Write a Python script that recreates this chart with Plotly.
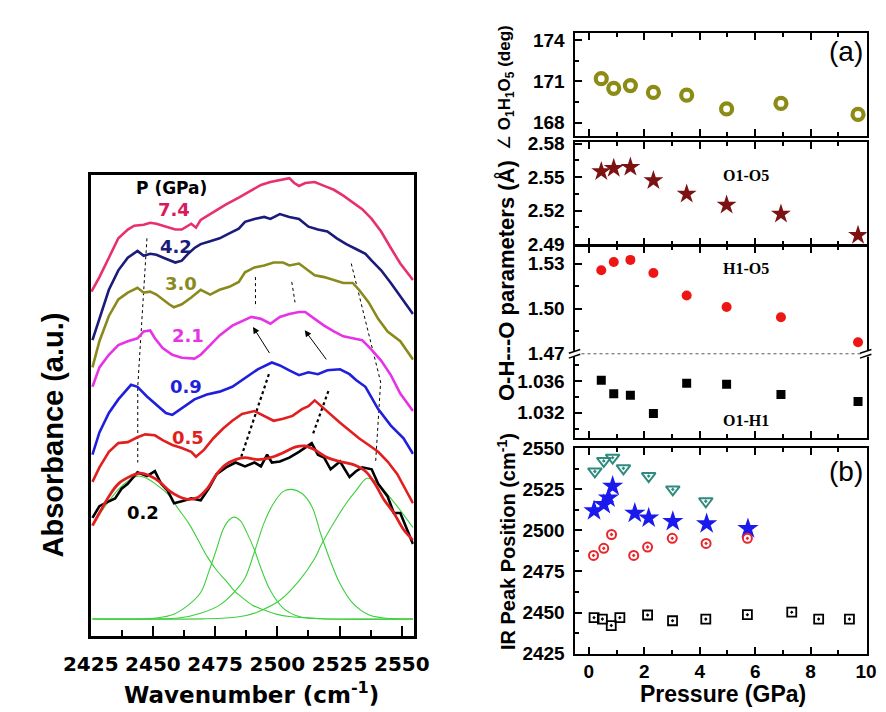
import plotly.graph_objects as go

# ---------------- Left panel: IR spectra (wavenumber, absorbance a.u.) ----------------
wn_74 = [2425.3, 2428.5, 2432.3, 2436.1, 2439.9, 2442.5, 2446.3, 2448.9, 2451.4, 2455.2, 2459.0, 2461.6, 2463.5,
         2465.4, 2467.3, 2469.2, 2474.3, 2479.4, 2484.5, 2489.6, 2493.4, 2497.2, 2501.0, 2504.8, 2506.8, 2508.7,
         2511.2, 2515.0, 2518.8, 2522.7, 2526.5, 2530.3, 2534.1, 2537.9, 2541.7, 2545.6, 2549.4, 2554.5]
ab_74 = [355, 370, 390, 410, 419, 423, 424, 426, 425, 422, 419, 419, 422, 425, 421, 429, 437, 445, 452, 459, 465,
         468, 470, 472, 467, 464, 467, 468, 464, 460, 454, 447, 440, 430, 417, 400, 384, 367]

wn_42 = [2425.7, 2428.5, 2432.3, 2436.1, 2439.9, 2443.8, 2446.3, 2448.9, 2451.4, 2455.2, 2459.0, 2461.6, 2464.1,
         2466.7, 2469.2, 2473.0, 2476.8, 2480.7, 2484.5, 2487.0, 2490.8, 2494.7, 2497.2, 2501.0, 2504.8, 2508.7,
         2512.5, 2516.3, 2520.1, 2523.9, 2527.7, 2531.6, 2535.4, 2537.9, 2541.7, 2545.6, 2549.4, 2554.5]
ab_42 = [305, 327, 357, 377, 390, 397, 392, 394, 393, 389, 385, 387, 394, 400, 404, 407, 410, 415, 420, 427, 430,
         432, 430, 435, 432, 430, 422, 419, 417, 410, 404, 399, 394, 387, 377, 364, 350, 332]

wn_30 = [2425.7, 2428.5, 2432.3, 2436.1, 2439.9, 2443.8, 2446.3, 2448.9, 2451.4, 2453.9, 2456.5, 2458.4, 2461.6,
         2465.4, 2469.2, 2473.0, 2476.8, 2480.7, 2484.5, 2487.0, 2490.8, 2494.7, 2498.5, 2502.3, 2504.8, 2508.7,
         2511.2, 2515.0, 2518.8, 2522.7, 2526.5, 2530.3, 2532.8, 2536.7, 2540.5, 2544.3, 2549.4, 2554.5]
ab_30 = [277, 304, 330, 347, 354, 359, 354, 355, 352, 347, 342, 339, 342, 349, 357, 352, 357, 360, 365, 375, 380,
         382, 385, 385, 382, 384, 379, 372, 370, 367, 364, 364, 357, 344, 327, 314, 304, 285]

wn_21 = [2425.7, 2428.5, 2432.3, 2436.1, 2439.9, 2443.8, 2446.3, 2448.9, 2450.8, 2453.9, 2457.8, 2461.6, 2466.7,
         2469.2, 2473.0, 2476.8, 2481.9, 2485.8, 2489.6, 2493.4, 2497.2, 2501.0, 2504.8, 2508.7, 2511.2, 2515.0,
         2518.8, 2522.7, 2526.5, 2530.3, 2534.1, 2537.9, 2541.7, 2545.6, 2549.4, 2554.5]
ab_21 = [257, 277, 290, 300, 304, 307, 314, 315, 307, 297, 290, 287, 286, 290, 300, 310, 320, 325, 329, 327, 322,
         329, 332, 334, 334, 327, 320, 314, 309, 307, 305, 295, 284, 269, 250, 232]

wn_09 = [2425.7, 2428.5, 2432.3, 2436.1, 2441.2, 2443.8, 2447.6, 2451.4, 2455.2, 2457.8, 2461.6, 2466.7, 2471.7,
         2476.8, 2481.9, 2485.8, 2492.1, 2497.8, 2501.0, 2504.8, 2508.7, 2512.5, 2516.3, 2520.1, 2525.2, 2529.0,
         2531.6, 2535.4, 2540.5, 2545.6, 2550.7, 2554.5]
ab_09 = [187, 210, 230, 244, 259, 257, 247, 239, 230, 228, 235, 244, 249, 252, 257, 264, 275, 282, 279, 274, 269,
         272, 270, 274, 275, 270, 264, 257, 234, 217, 204, 188]

wn_05 = [2425.7, 2428.5, 2432.3, 2436.1, 2439.9, 2443.8, 2446.9, 2450.8, 2453.9, 2457.8, 2461.6, 2465.4, 2467.3,
         2470.5, 2474.3, 2478.2, 2481.9, 2485.8, 2490.8, 2494.7, 2498.5, 2502.3, 2506.1, 2509.9, 2512.5, 2515.0,
         2517.6, 2521.4, 2525.2, 2529.0, 2532.8, 2536.7, 2540.5, 2544.3, 2548.2, 2554.5]
ab_05 = [159, 174, 190, 199, 200, 205, 208, 207, 202, 197, 194, 190, 185, 192, 204, 214, 222, 229, 232, 227, 222,
         224, 227, 234, 237, 243, 237, 229, 220, 212, 204, 197, 190, 180, 167, 137]

wn_02 = [2425.7, 2428.5, 2432.3, 2434.8, 2437.4, 2439.9, 2443.8, 2447.6, 2450.8, 2453.3, 2455.9, 2458.5, 2461.6,
         2465.4, 2469.2, 2472.4, 2475.6, 2479.4, 2483.2, 2487.0, 2490.8, 2493.4, 2495.9, 2497.8, 2501.0, 2504.8,
         2508.7, 2512.5, 2513.8, 2516.3, 2518.8, 2521.4, 2525.2, 2529.0, 2531.6, 2534.1, 2537.9, 2540.5, 2544.3,
         2546.8, 2549.4, 2554.5]
ab_02 = [122, 134, 139, 142, 152, 157, 169, 165, 170, 157, 150, 137, 139, 142, 140, 152, 167, 174, 179, 175, 179,
         175, 187, 179, 180, 184, 190, 197, 199, 187, 184, 172, 180, 164, 170, 174, 172, 157, 144, 127, 127, 95]

# fitted envelope of the 0.2 GPa spectrum
wn_fit = [2425.7, 2428.5, 2432.3, 2436.1, 2441.2, 2445.0, 2448.9, 2452.7, 2456.5, 2460.4, 2464.2, 2468.0, 2471.8,
          2475.6, 2479.4, 2483.2, 2487.0, 2492.1, 2497.2, 2502.3, 2507.4, 2511.2, 2515.0, 2520.1, 2525.2, 2530.3,
          2535.4, 2539.2, 2543.0, 2546.8, 2550.7, 2554.5]
ab_fit = [114, 127, 144, 157, 165, 168, 165, 159, 150, 144, 141, 143, 152, 167, 177, 182, 184, 182, 184, 189, 195,
          196, 192, 184, 180, 177, 170, 157, 140, 127, 110, 99]

# fitted components
wn_g1 = [2425.7, 2430.0, 2436.0, 2440.0, 2444.0, 2448.0, 2452.0, 2456.5, 2460.0, 2464.2, 2468.0, 2471.8, 2475.6,
         2479.4, 2483.0, 2485.8, 2490.0, 2494.7, 2500.0, 2504.8, 2511.0, 2517.6, 2530.0, 2554.5]
ab_g1 = [115, 131, 151, 160, 165, 162, 155, 145, 132, 117, 100, 82, 68, 57, 46, 40, 32, 27, 22.5, 20.3, 19, 18,
         17.7, 17.7]
wn_g2 = [2425.7, 2445.0, 2451.4, 2457.8, 2464.2, 2469.2, 2472.4, 2475.6, 2478.2, 2480.7, 2482.6, 2485.1, 2487.7,
         2490.8, 2493.4, 2497.2, 2502.3, 2508.7, 2517.6, 2554.5]
ab_g2 = [17.7, 17.7, 18.7, 22, 32, 45, 66, 90, 110, 120, 122.7, 119, 107, 89, 70, 47, 29, 20.3, 18, 17.7]
wn_g3 = [2425.7, 2450.0, 2460.3, 2469.2, 2476.8, 2483.2, 2487.0, 2490.8, 2494.7, 2498.5, 2502.3, 2505.9, 2509.9,
         2513.8, 2517.6, 2521.4, 2525.2, 2530.3, 2536.7, 2543.0, 2554.5]
ab_g3 = [17.7, 17.8, 18.7, 23.7, 32, 47, 60, 87, 117, 137, 149, 151.3, 147, 134, 104, 77, 54, 34, 22, 18.7, 17.7]
wn_g4 = [2425.7, 2470.0, 2479.4, 2487.0, 2492.1, 2501.0, 2508.7, 2515.0, 2517.6, 2522.7, 2527.7, 2531.6, 2536.0,
         2539.2, 2543.0, 2548.1, 2554.5]
ab_g4 = [17.7, 17.9, 18.7, 21, 25, 37, 57, 80, 94, 117, 137, 150, 162.7, 160, 150, 134, 112]

# guide lines (dotted) and arrows
guide1_wn = [2447.6, 2443.9, 2443.9]
guide1_ab = [410, 257, 179]
guide2_wn = [2485.5, 2496.6]
guide2_ab = [185, 270]
guide3_wn = [2514.4, 2520.7]
guide3_ab = [209, 254]
guide4_wn = [2491.2, 2491.2]
guide4_ab = [370, 339]
guide5_wn = [2505.8, 2507.1]
guide5_ab = [365, 344]
guide6_wn = [2529.7, 2541.5, 2539.5]
guide6_ab = [384, 262, 180]

pressure_labels = ["7.4", "4.2", "3.0", "2.1", "0.9", "0.5", "0.2"]
label_wn = [2458.4, 2459.2, 2461.1, 2464.1, 2463.4, 2464.1, 2446.2]
label_ab = [440, 402, 363, 310, 257, 205, 127]

# ---------------- Right panel (a) ----------------
P_a = [0.45, 0.9, 1.5, 2.33, 3.53, 4.97, 6.93, 9.71]
angle_O1H1O5 = [171.2, 170.5, 170.7, 170.2, 170.0, 169.0, 169.4, 168.6]
d_O1O5 = [2.555, 2.558, 2.559, 2.547, 2.535, 2.525, 2.517, 2.498]
d_H1O5 = [1.5255, 1.531, 1.5324, 1.5237, 1.5087, 1.5011, 1.4943, 1.4777]
d_O1H1 = [1.0361, 1.0344, 1.0342, 1.0319, 1.0357, 1.0356, 1.0343, 1.0334]

# ---------------- Right panel (b) ----------------
P_tri = [0.22, 0.54, 0.86, 1.25, 2.16, 3.03, 4.22]
nu_tri = [2535.7, 2542.1, 2544.1, 2537.6, 2532.9, 2524.8, 2517.6]
P_star = [0.19, 0.54, 0.71, 0.86, 1.66, 2.16, 3.03, 4.25, 5.74]
nu_star = [2511.8, 2515.7, 2519.6, 2526.8, 2510.4, 2507.4, 2505.3, 2503.9, 2501.0]
P_circ = [0.17, 0.54, 0.82, 1.62, 2.12, 3.01, 4.23, 5.72]
nu_circ = [2484.7, 2489.0, 2497.4, 2484.7, 2489.8, 2495.1, 2492.0, 2495.1]
P_sq = [0.19, 0.49, 0.81, 1.12, 2.12, 3.02, 4.22, 5.72, 7.32, 8.29, 9.40]
nu_sq = [2446.9, 2446.0, 2442.1, 2446.9, 2448.5, 2445.0, 2446.0, 2448.7, 2450.2, 2446.0, 2446.0]

# ======================================================================
W, H = 886, 712
def px(x):
    return x / W
def py(y):
    return 1 - y / H

LEFT_FONT = "DejaVu Sans"
RIGHT_FONT = "Liberation Sans, Arial, sans-serif"

fig = go.Figure()

def add_line(xs, ys, color, width, dash=None, shape="linear", axis=("x", "y")):
    fig.add_trace(go.Scatter(x=xs, y=ys, mode="lines", xaxis=axis[0], yaxis=axis[1],
                             line=dict(color=color, width=width, dash=dash, shape=shape),
                             showlegend=False, hoverinfo="skip"))

# guides behind
for gx, gy, w in [(guide1_wn, guide1_ab, 1), (guide2_wn, guide2_ab, 2.2), (guide3_wn, guide3_ab, 2.2),
                  (guide4_wn, guide4_ab, 1), (guide5_wn, guide5_ab, 1), (guide6_wn, guide6_ab, 1)]:
    add_line(gx, gy, "black", w, dash="dot")

green = "#3ccf3c"
for gx, gy in [(wn_g1, ab_g1), (wn_g2, ab_g2), (wn_g3, ab_g3), (wn_g4, ab_g4)]:
    add_line(gx, gy, green, 1.1, shape="spline")

spec_colors = ["#e8306e", "#1b1b7a", "#8a8a1c", "#e633e6", "#1f1fdc", "#e11f1f", "#000000"]
spectra = [(wn_74, ab_74), (wn_42, ab_42), (wn_30, ab_30), (wn_21, ab_21), (wn_09, ab_09), (wn_05, ab_05),
           (wn_02, ab_02)]
for (sx, sy), c in zip(spectra, spec_colors):
    add_line(sx, sy, c, 2.6)
add_line(wn_fit, ab_fit, "#e11f1f", 2.8, shape="spline")

label_colors = ["#d81b60", "#1b1b7a", "#8a8a1c", "#e633e6", "#1f1fdc", "#e11f1f", "#000000"]
ann = []
for t, x, y, c in zip(pressure_labels, label_wn, label_ab, label_colors):
    ann.append(dict(x=x, y=y, xref="x", yref="y", text=t, showarrow=False, xanchor="center", yanchor="middle",
                    font=dict(family=LEFT_FONT, size=18, color=c, weight="bold")))
ann.append(dict(x=2457.3, y=462, xref="x", yref="y", text="P (GPa)", showarrow=False,
                xanchor="center", yanchor="middle",
                font=dict(family=LEFT_FONT, size=17, color="black", weight="bold")))
# arrows
ann.append(dict(x=2490.2, y=318.7, ax=2497.2, ay=290.3, xref="x", yref="y", axref="x", ayref="y",
                showarrow=True, arrowhead=2, arrowsize=1.3, arrowwidth=1, arrowcolor="black", text=""))
ann.append(dict(x=2511.0, y=315.3, ax=2520.1, ay=283.7, xref="x", yref="y", axref="x", ayref="y",
                showarrow=True, arrowhead=2, arrowsize=1.3, arrowwidth=1, arrowcolor="black", text=""))

# ---------------- right traces ----------------
fig.add_trace(go.Scatter(x=P_a, y=angle_O1H1O5, mode="markers", xaxis="x2", yaxis="y2", showlegend=False,
                         marker=dict(symbol="circle-open", size=11, color="#8b8b16", line=dict(width=4.2))))
fig.add_trace(go.Scatter(x=P_a, y=d_O1O5, mode="markers", xaxis="x3", yaxis="y3", showlegend=False,
                         marker=dict(symbol="star", size=15, color="#7d1212")))
fig.add_trace(go.Scatter(x=P_a, y=d_H1O5, mode="markers", xaxis="x4", yaxis="y4", showlegend=False,
                         marker=dict(symbol="circle", size=10, color="#ee1515")))
fig.add_trace(go.Scatter(x=P_a, y=d_O1H1, mode="markers", xaxis="x5", yaxis="y5", showlegend=False,
                         marker=dict(symbol="square", size=9, color="black")))
fig.add_trace(go.Scatter(x=P_tri, y=nu_tri, mode="markers", xaxis="x6", yaxis="y6", showlegend=False,
                         marker=dict(symbol="triangle-down-open-dot", size=12, color="#2e8b7e",
                                     line=dict(width=2))))
fig.add_trace(go.Scatter(x=P_star, y=nu_star, mode="markers", xaxis="x6", yaxis="y6", showlegend=False,
                         marker=dict(symbol="star", size=16, color="#1a1aee")))
fig.add_trace(go.Scatter(x=P_circ, y=nu_circ, mode="markers", xaxis="x6", yaxis="y6", showlegend=False,
                         marker=dict(symbol="circle-open-dot", size=9, color="#e8262b", line=dict(width=2))))
fig.add_trace(go.Scatter(x=P_sq, y=nu_sq, mode="markers", xaxis="x6", yaxis="y6", showlegend=False,
                         marker=dict(symbol="square-open-dot", size=9, color="black", line=dict(width=1.8))))

# ---------------- axes ----------------
xr_dom = [px(567), px(873)]
rtick = dict(family=RIGHT_FONT, size=19, color="black", weight="bold")

def right_x(anchor, showlabels=False, side="bottom", mirror="ticks"):
    return dict(domain=xr_dom, anchor=anchor, range=[-0.48, 10.02], side=side,
                showline=True, linewidth=2, linecolor="black", mirror=mirror,
                ticks="inside", ticklen=7, tickwidth=1.8, tickcolor="black", dtick=2, tick0=0,
                minor=dict(ticks="inside", ticklen=4, tickwidth=1.5, dtick=1, tick0=0, tickcolor="black"),
                showticklabels=showlabels, tickfont=rtick, ticklabelstandoff=0,
                showgrid=False, zeroline=False)

def right_y(anchor, dom, rng, tickvals, minor_dtick, minor_tick0, fmt=None):
    d = dict(domain=dom, anchor=anchor, range=rng, tickvals=tickvals,
             showline=True, linewidth=2, linecolor="black", mirror=True,
             ticks="inside", ticklen=7, tickwidth=1.8, tickcolor="black",
             minor=dict(ticks="inside", ticklen=4, tickwidth=1.5, dtick=minor_dtick, tick0=minor_tick0,
                        tickcolor="black"),
             tickfont=rtick, ticklabelstandoff=5, showgrid=False, zeroline=False)
    if fmt:
        d["tickformat"] = fmt
    return d

layout = dict(
    width=W, height=H, autosize=False, margin=dict(l=0, r=0, t=0, b=0),
    paper_bgcolor="white", plot_bgcolor="rgba(0,0,0,0)", showlegend=False,
    xaxis=dict(domain=[px(57.5), px(397)], anchor="y", range=[2425, 2554.8],
               tickvals=[2425, 2450, 2475, 2500, 2525, 2550],
               showline=True, linewidth=2.5, linecolor="black", mirror=True,
               ticks="inside", ticklen=10, tickwidth=2, tickcolor="black",
               minor=dict(ticks="inside", ticklen=6, tickwidth=2, dtick=12.5, tick0=2425, tickcolor="black"),
               tickfont=dict(family=LEFT_FONT, size=20, color="black", weight="bold"), ticklabelstandoff=8,
               showgrid=False, zeroline=False),
    yaxis=dict(domain=[py(637), py(162)], anchor="x", range=[0, 475], showticklabels=False, ticks="",
               showline=True, linewidth=2.5, linecolor="black", mirror=True, showgrid=False, zeroline=False),
    xaxis2=right_x("y2"),
    yaxis2=right_y("x2", [py(122), py(15)], [167.0, 174.56], [168, 171, 174], 1.5, 168),
    xaxis3=right_x("y3"),
    yaxis3=right_y("x3", [py(233.5), py(128)], [2.4896, 2.5813], [2.49, 2.52, 2.55, 2.58], 0.015, 2.49, ".2f"),
    xaxis4=right_x("y4", side="top", mirror=False),
    yaxis4=right_y("x4", [py(346), py(235)], [1.47, 1.5416], [1.47, 1.50, 1.53], 0.015, 1.47, ".2f"),
    xaxis5=right_x("y5", mirror=False),
    yaxis5=right_y("x5", [py(433), py(346)], [1.02878, 1.03943], [1.032, 1.036], 0.002, 1.030, ".3f"),
    xaxis6=right_x("y6", showlabels=True),
    yaxis6=right_y("x6", [py(655), py(443)], [2425, 2550], [2425, 2450, 2475, 2500, 2525, 2550], 12.5, 2425),
)

def pann(x, y, text, size, family, angle=0, bold=True):
    f = dict(family=family, size=size, color="black")
    if bold:
        f["weight"] = "bold"
    return dict(x=px(x), y=py(y), xref="paper", yref="paper", text=text, textangle=angle,
                showarrow=False, xanchor="center", yanchor="middle", font=f)

# axis titles & panel labels
ann += [
    pann(18, 430, "Absorbance (a.u.)", 29, RIGHT_FONT, -90),
    pann(227, 696, "Wavenumber (cm<sup>-1</sup>)", 23, LEFT_FONT),
    pann(722, 697, "Pressure (GPa)", 23, RIGHT_FONT),
    pann(494, 540, "IR Peak Position (cm<sup>-1</sup>)", 20, RIGHT_FONT, -90),
    pann(494, 271, "O-H---O parameters (Å)", 22, RIGHT_FONT, -90),
    pann(494, 72, "<span style='font-weight:normal'>∠</span> O<sub>1</sub>H<sub>1</sub>O<sub>5</sub> (deg)",
         17, RIGHT_FONT, -90),
    pann(851, 35, "(a)", 28, RIGHT_FONT, bold=False),
    pann(851, 467, "(b)", 28, RIGHT_FONT, bold=False),
    dict(x=5.68, y=2.5511, xref="x3", yref="y3", text="O1-O5", showarrow=False,
         font=dict(family="Liberation Serif, Times New Roman, serif", size=16, color="black", weight="bold")),
    dict(x=5.68, y=1.5266, xref="x4", yref="y4", text="H1-O5", showarrow=False,
         font=dict(family="Liberation Serif, Times New Roman, serif", size=16, color="black", weight="bold")),
    dict(x=5.68, y=1.0310, xref="x5", yref="y5", text="O1-H1", showarrow=False,
         font=dict(family="Liberation Serif, Times New Roman, serif", size=16, color="black", weight="bold")),
]
layout["annotations"] = ann

# axis break: dotted line and break marks
shapes = [dict(type="line", xref="paper", yref="paper", x0=px(567), x1=px(873), y0=py(346), y1=py(346),
               line=dict(color="#555555", width=1, dash="dot"))]
for cx in (567, 873):
    shapes.append(dict(type="rect", xref="paper", yref="paper", x0=px(cx - 5), x1=px(cx + 5),
                       y0=py(349), y1=py(343), fillcolor="white", line=dict(width=0)))
    for dy in (-2.5, 2.5):
        shapes.append(dict(type="line", xref="paper", yref="paper", x0=px(cx - 7), x1=px(cx + 5),
                           y0=py(346 + dy + 2), y1=py(346 + dy - 2), line=dict(color="black", width=1.5)))
layout["shapes"] = shapes

fig.update_layout(**layout)
fig.write_html("out.html")
